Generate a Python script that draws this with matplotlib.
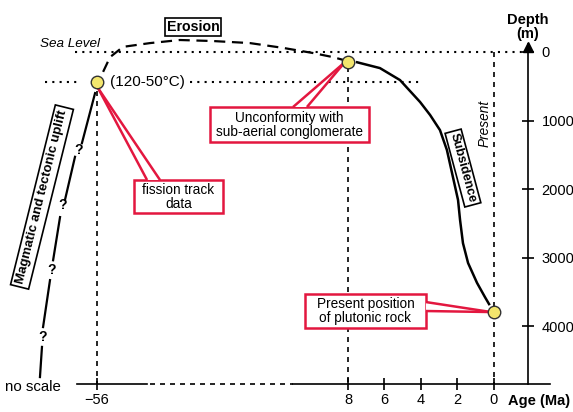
import numpy as np
import matplotlib
matplotlib.use('Agg')
import matplotlib.pyplot as plt
from matplotlib.patches import Rectangle, Polygon

plt.rcParams['font.family'] = ['Liberation Sans', 'DejaVu Sans']

# age axis: scaled part is plotted as -age (Ma), 56 Ma sits left of the break (no scale)
BREAK_POS = -21.75

age_ticks = [56, 8, 6, 4, 2, 0]
age_tick_labels = ['\u221256', '8', '6', '4', '2', '0']
depth_ticks = [0, 1000, 2000, 3000, 4000]
depth_tick_labels = ['0', '1000', '2000', '3000', '4000']

# key points: fission track data, unconformity, present position of plutonic rock
point_age = [56, 8, 0]
point_depth = [440, 150, 3800]

# subsidence since the unconformity
subs_age = [7.5, 6.25, 5.15, 4.05, 3.5, 2.96, 2.58, 2.25, 1.97, 1.86, 1.7, 1.42, 0.93, 0.49, 0.27]
subs_depth = [150, 235, 410, 730, 920, 1140, 1430, 1825, 2160, 2450, 2790, 3080, 3370, 3580, 3680]

# erosion arc between 56 and 8 Ma (off scale, given as plot positions)
erosion_pos = [-21.42, -21.04, -20.33, -18.85, -17.21, -15.4, -13.37, -11.56, -9.92, -8.82, -8.27]
erosion_depth = [290, 75, -75, -130, -175, -160, -130, -60, 15, 75, 115]

# uplift path below the fission track point, broken by question marks
uplift_pos = [-21.86, -22.58, np.nan, -22.96, -23.51, np.nan, -23.78, -24.16, np.nan,
              -24.33, -24.71, np.nan, -24.77, -24.88]
uplift_depth = [600, 1330, np.nan, 1530, 2160, np.nan, 2410, 3040, np.nan,
                3330, 4015, np.nan, 4305, 4745]
question_pos = [-22.79, -23.62, -24.22, -24.71]
question_depth = [1430, 2235, 3185, 4160]

AXIS_DEPTH = 4847
DEPTH_AXIS_POS = 1.86
RED = '#e3173f'


def xpos(age):
    return BREAK_POS if age > 8 else -age


fig = plt.figure(figsize=(5.73, 4.12), dpi=100)
ax = fig.add_axes([0, 0, 1, 1])
ax.set_xlim(-27.07, 4.33)
ax.set_ylim(5255, -759)

for side in ['top', 'left']:
    ax.spines[side].set_visible(False)
ax.spines['right'].set_position(('data', DEPTH_AXIS_POS))
ax.spines['right'].set_bounds(-110, AXIS_DEPTH)
ax.spines['bottom'].set_position(('data', AXIS_DEPTH))
ax.spines['bottom'].set_bounds(-11.0, 3.07)
for side in ['right', 'bottom']:
    ax.spines[side].set_linewidth(1.2)

ax.set_xticks([xpos(a) for a in age_ticks], age_tick_labels)
ax.yaxis.tick_right()
ax.set_yticks(depth_ticks, depth_tick_labels)
ax.tick_params(axis='x', direction='inout', length=8.6, width=1.2, pad=2.5, labelsize=10.5)
ax.tick_params(axis='y', direction='inout', length=8.6, width=1.2, pad=5.5, labelsize=10.5)

# broken left part of the age axis
ax.plot([-22.85, -19.0], [AXIS_DEPTH, AXIS_DEPTH], color='k', lw=1.2)
ax.plot([-18.85, -11.0], [AXIS_DEPTH, AXIS_DEPTH], color='k', lw=1.2, ls=(0, (3, 3)))
# arrow head of depth axis
ax.plot(DEPTH_AXIS_POS, -80, marker='^', ms=7, color='k', clip_on=False)

# reference lines
ax.plot([-22.96, DEPTH_AXIS_POS], [0, 0], color='k', lw=1.5, ls=(0, (1, 2.5)))
ax.plot([-24.6, -22.7], [point_depth[0], point_depth[0]], color='k', lw=1.5, ls=(0, (1, 2.5)))
ax.plot([-16.66, -3.95], [point_depth[0], point_depth[0]], color='k', lw=1.5, ls=(0, (1, 2.5)))
ax.plot([xpos(56), xpos(56)], [570, AXIS_DEPTH], color='k', lw=1.2, ls=(0, (3, 3)))
ax.plot([xpos(8), xpos(8)], [220, AXIS_DEPTH], color='k', lw=1.2, ls=(0, (3, 3)))
ax.plot([xpos(0), xpos(0)], [0, AXIS_DEPTH], color='k', lw=1.2, ls=(0, (3, 3)))

# curves
ax.plot(erosion_pos, erosion_depth, color='k', lw=1.6, ls=(0, (5, 3)))
ax.plot([-a for a in subs_age], subs_depth, color='k', lw=1.8, solid_joinstyle='round')
ax.plot(uplift_pos, uplift_depth, color='k', lw=1.6)
for qx, qy in zip(question_pos, question_depth):
    ax.text(qx, qy, '?', ha='center', va='center', fontsize=10, fontweight='bold')

# callout boxes with pointer wedges
callouts = [
    ('fission track\ndata', (-19.73, 1869, -14.85, 2351),
     [(-21.7, 526), (-19.01, 1869), (-18.3, 1869)]),
    ('Unconformity with\nsub-aerial conglomerate', (-15.56, 803, -6.85, 1314),
     [(-8.16, 146), (-11.01, 803), (-10.25, 803)]),
    ('Present position\nof plutonic rock', (-10.36, 3533, -3.73, 4030),
     [(-0.16, 3796), (-3.73, 3650), (-3.73, 3781)]),
]
for label, (x0, y0, x1, y1), wedge in callouts:
    ax.add_patch(Rectangle((x0, y0), x1 - x0, y1 - y0, fc='white', ec=RED, lw=1.8, zorder=3))
    ax.add_patch(Polygon(wedge, closed=True, fc='white', ec='none', zorder=4))
    tip, b1, b2 = wedge
    ax.plot([tip[0], b1[0]], [tip[1], b1[1]], color=RED, lw=1.8, zorder=5, solid_capstyle='butt')
    ax.plot([tip[0], b2[0]], [tip[1], b2[1]], color=RED, lw=1.8, zorder=5, solid_capstyle='butt')
    ax.text((x0 + x1) / 2, (y0 + y1) / 2, label, ha='center', va='center',
            fontsize=9.8, linespacing=1.0, zorder=6)

# data points
ax.plot([xpos(a) for a in point_age], point_depth, 'o', ms=9, mfc='#f3e66d',
        mec='#333333', mew=1.0, zorder=7)

# labels
ax.text(-21.04, point_depth[0], '(120-50\u00b0C)', ha='left', va='center', fontsize=11)
ax.text(-23.23, -117, 'Sea Level', ha='center', va='center', fontsize=9.7, style='italic')
ax.text(-16.49, -365, 'Erosion', ha='center', va='center', fontsize=10.2, fontweight='bold',
        bbox=dict(boxstyle='square,pad=0.12', fc='white', ec='k', lw=1.2))
ax.text(-24.77, 2117, 'Magmatic and tectonic uplift', ha='center', va='center',
        fontsize=9.5, fontweight='bold', rotation=76, rotation_mode='anchor',
        bbox=dict(boxstyle='square,pad=0.25', fc='white', ec='k', lw=1.2))
ax.text(-1.7, 1694, 'Subsidence', ha='center', va='center', fontsize=9.2,
        fontweight='bold', rotation=-75, rotation_mode='anchor',
        bbox=dict(boxstyle='square,pad=0.18', fc='white', ec='k', lw=1.2))
ax.text(-0.49, 1040, 'Present', ha='center', va='center', fontsize=9.8,
        style='italic', rotation=90)
ax.text(-26.79, 4891, 'no scale', ha='left', va='center', fontsize=10.8)
ax.text(0.77, 5095, 'Age (Ma)', ha='left', va='center', fontsize=10.5, fontweight='bold')
ax.text(DEPTH_AXIS_POS, -365, 'Depth\n(m)', ha='center', va='center', fontsize=10.5,
        fontweight='bold', linespacing=0.95)

fig.savefig('out.png', dpi=100)
